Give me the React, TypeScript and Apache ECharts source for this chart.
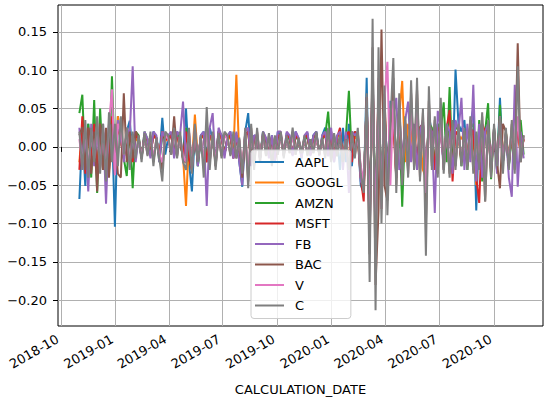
import React, { useEffect, useRef } from "react";
import * as echarts from "echarts";

// Sampling: one observation every 5 calendar days from 2018-11-01
const START_DATE = "2018-11-01";
const STEP_DAYS = 5;

const SERIES_NAMES = ["AAPL", "GOOGL", "AMZN", "MSFT", "FB", "BAC", "V", "C"];
const COLORS = ["#1f77b4", "#ff7f0e", "#2ca02c", "#d62728", "#9467bd", "#8c564b", "#e377c2", "#7f7f7f"];

const AAPL = [
  -0.068, 0.02, -0.051, 0.03, -0.02, 0.025, -0.03, 0.015, -0.025, 0.02,
  -0.02, 0.03, -0.104, 0.04, 0.01, -0.015, 0.02, 0.034, -0.01, 0.015,
  0.01, -0.012, 0.015, 0.008, -0.01, 0.02, 0.012, -0.015, 0.038, -0.01,
  0.012, 0.015, -0.008, 0.02, 0.01, -0.015, 0.05, -0.02, -0.058, 0.02,
  -0.025, 0.015, 0.02, -0.015, 0.025, 0.01, -0.02, 0.02, 0.015, -0.01,
  0.012, 0.02, -0.015, 0.018, -0.02, -0.052, 0.02, 0.044, -0.02, 0.015,
  0.012, -0.015, 0.02, 0.01, -0.01, 0.015, -0.02, 0.02, 0.015, -0.01,
  0.018, 0.012, -0.01, 0.02, 0.01, -0.015, 0.012, 0.018, -0.01, 0.015,
  0.02, -0.01, 0.015, 0.025, -0.012, 0.02, -0.02, 0.015, -0.03, 0.025,
  -0.02, 0.03, -0.025, 0.02, 0.015, -0.05, -0.06, 0.09, -0.12, 0.11,
  -0.13, 0.07, -0.06, 0.05, -0.05, 0.06, 0.04, -0.04, 0.045, -0.02,
  0.03, -0.025, 0.04, 0.015, -0.02, 0.025, 0.03, -0.045, 0.04, 0.02,
  -0.025, 0.03, 0.02, -0.02, 0.025, 0.015, -0.03, 0.101, 0.03, 0.02,
  0.035, -0.02, 0.03, 0.05, -0.083, 0.03, -0.04, 0.02, 0.03, -0.025,
  0.02, -0.03, 0.064, -0.02, 0.01, -0.025, 0.02, -0.015, 0.03, -0.01, 0.01,
];

const GOOGL = [
  -0.02, 0.03, -0.025, 0.02, -0.03, 0.025, -0.02, 0.015, -0.03, 0.01,
  -0.025, 0.035, -0.03, 0.04, 0.005, -0.01, 0.02, 0.01, -0.015, 0.01,
  0.008, -0.01, 0.012, 0.01, -0.008, 0.015, 0.01, -0.012, 0.02, 0.008,
  0.01, 0.015, -0.01, 0.012, 0.008, -0.012, -0.077, 0.01, -0.02, 0.042,
  -0.015, 0.01, 0.015, -0.02, 0.012, 0.008, -0.015, 0.015, 0.01, -0.008,
  0.01, 0.012, -0.01, 0.094, -0.015, -0.03, 0.015, 0.02, -0.02, 0.012,
  0.01, -0.012, 0.015, 0.008, -0.01, 0.012, -0.015, 0.015, 0.012, -0.008,
  0.015, 0.01, -0.008, 0.015, 0.008, -0.01, 0.01, 0.015, -0.008, 0.012,
  0.015, -0.008, 0.012, 0.02, -0.01, 0.015, -0.015, 0.012, 0.02, -0.02,
  0.015, -0.02, 0.02, 0.012, 0.01, -0.04, -0.05, 0.06, -0.11, 0.09,
  -0.11, 0.08, -0.07, 0.06, -0.05, 0.05, 0.04, -0.035, 0.04, 0.086,
  -0.02, 0.03, 0.02, -0.02, 0.03, 0.015, -0.03, -0.04, 0.035, 0.02,
  -0.03, 0.025, 0.02, -0.015, 0.02, 0.015, -0.025, 0.02, 0.015, 0.01,
  0.02, -0.015, 0.025, 0.015, -0.05, 0.02, -0.035, 0.015, 0.025, -0.02,
  0.015, -0.02, 0.03, -0.015, 0.02, -0.02, 0.015, 0.045, 0.02, -0.01, 0.01,
];

const AMZN = [
  0.044, 0.068, -0.03, 0.03, -0.04, 0.061, -0.06, 0.05, -0.03, 0.02,
  -0.035, 0.092, -0.025, 0.03, 0.02, -0.015, -0.038, 0.025, -0.054, 0.02,
  0.015, -0.015, 0.02, 0.01, -0.012, 0.018, 0.012, -0.02, 0.015, 0.01,
  0.012, 0.018, -0.012, 0.015, 0.01, -0.015, 0.025, -0.015, -0.03, 0.02,
  -0.025, 0.012, 0.015, -0.02, 0.015, 0.01, -0.018, 0.02, 0.015, -0.01,
  0.012, 0.015, -0.012, 0.015, -0.015, -0.035, 0.015, 0.02, -0.02, 0.012,
  0.01, -0.015, 0.012, 0.008, -0.012, 0.01, -0.018, 0.012, 0.015, -0.01,
  0.012, 0.01, -0.01, 0.015, 0.008, -0.012, 0.01, 0.012, -0.008, 0.015,
  0.012, -0.008, 0.01, 0.015, 0.046, -0.01, 0.012, -0.012, 0.015, -0.02,
  0.015, 0.073, -0.015, 0.02, 0.01, -0.03, -0.045, 0.05, -0.08, 0.075,
  -0.07, 0.06, -0.05, 0.05, -0.03, 0.04, 0.061, -0.02, 0.035, -0.078,
  0.03, -0.02, 0.035, 0.02, -0.03, 0.025, 0.03, -0.035, 0.03, 0.025,
  -0.03, 0.03, 0.02, 0.058, -0.02, 0.078, -0.03, 0.03, 0.02, -0.025,
  0.02, -0.03, 0.025, 0.03, -0.04, 0.035, -0.045, 0.02, 0.057, -0.042,
  0.025, -0.03, 0.055, -0.02, 0.02, -0.025, 0.015, -0.02, 0.03, 0.035, -0.01,
];

const MSFT = [
  -0.03, 0.04, -0.035, 0.025, -0.02, 0.03, -0.04, 0.03, -0.025, 0.02,
  -0.03, 0.04, -0.035, 0.03, 0.01, -0.015, 0.02, 0.012, -0.02, 0.015,
  0.01, -0.012, 0.015, 0.008, -0.01, 0.015, 0.01, -0.012, 0.02, 0.01,
  0.01, 0.015, -0.01, 0.012, 0.01, -0.015, 0.02, -0.015, -0.03, 0.02,
  -0.02, 0.012, 0.015, -0.02, 0.015, 0.01, -0.02, 0.02, 0.012, -0.01,
  0.012, 0.015, -0.015, 0.015, -0.015, -0.033, 0.015, 0.02, -0.02, 0.012,
  0.012, -0.015, 0.015, 0.01, -0.012, 0.012, -0.02, 0.015, 0.015, -0.01,
  0.015, 0.012, -0.01, 0.015, 0.01, -0.012, 0.012, 0.015, -0.01, 0.012,
  0.015, -0.01, 0.012, 0.015, -0.01, 0.02, -0.015, 0.012, 0.025, -0.02,
  0.015, 0.02, -0.02, 0.02, 0.015, -0.04, -0.071, 0.065, -0.1, 0.1,
  -0.12, 0.08, -0.081, 0.069, -0.05, 0.044, 0.03, -0.04, 0.035, -0.02,
  0.03, -0.02, 0.03, 0.02, -0.025, 0.025, 0.03, -0.045, 0.03, 0.02,
  -0.03, 0.025, 0.02, -0.02, 0.025, 0.048, -0.045, 0.02, 0.015, -0.02,
  0.02, -0.015, 0.025, 0.02, -0.04, -0.073, 0.03, 0.02, 0.025, -0.03,
  0.02, -0.025, 0.04, -0.02, 0.015, -0.02, 0.02, -0.015, 0.025, -0.01, 0.01,
];

const FB = [
  0.025, -0.03, 0.02, -0.058, 0.03, -0.025, 0.02, -0.03, 0.03, -0.074,
  0.03, 0.02, -0.03, 0.035, 0.01, -0.02, 0.025, 0.015, 0.105, -0.02,
  0.012, -0.015, 0.02, 0.01, -0.015, 0.02, 0.015, -0.02, 0.02, 0.012,
  0.015, 0.02, -0.015, 0.02, 0.015, 0.059, -0.02, 0.015, -0.03, 0.025,
  -0.025, 0.015, 0.02, -0.077, 0.025, 0.044, -0.025, 0.025, 0.015, -0.015,
  0.015, 0.02, -0.015, 0.02, -0.02, -0.05, 0.02, 0.025, -0.025, 0.015,
  0.015, -0.02, 0.02, 0.012, -0.015, 0.015, -0.02, 0.02, 0.02, -0.012,
  0.02, 0.015, -0.012, 0.02, 0.012, -0.015, 0.015, 0.02, -0.012, 0.015,
  0.02, -0.012, 0.015, 0.02, -0.012, 0.025, -0.02, 0.015, 0.02, -0.03,
  0.02, -0.06, 0.02, 0.015, 0.02, -0.045, -0.05, 0.06, -0.1, 0.09,
  -0.1, 0.07, -0.06, 0.05, -0.04, 0.05, 0.04, 0.064, -0.03, -0.02,
  0.035, 0.059, -0.02, 0.03, -0.03, 0.02, 0.035, -0.04, 0.03, 0.02,
  -0.086, 0.047, 0.025, -0.03, 0.03, 0.02, -0.035, 0.035, 0.02, 0.064,
  -0.03, 0.03, -0.02, 0.081, -0.045, 0.03, -0.04, 0.02, 0.03, -0.03,
  0.025, -0.035, 0.04, -0.02, 0.02, -0.04, -0.065, 0.081, -0.052, 0.02, -0.015,
];

const BAC = [
  0.015, 0.026, -0.03, 0.025, -0.035, 0.02, -0.058, 0.03, -0.03, 0.025,
  -0.04, 0.03, 0.02, -0.035, -0.04, 0.07, -0.02, 0.02, -0.015, 0.02,
  0.012, -0.015, 0.015, -0.01, 0.012, -0.02, 0.01, -0.012, -0.03, 0.015,
  0.012, -0.01, 0.04, -0.012, 0.015, -0.018, -0.02, 0.02, -0.025, 0.02,
  -0.018, 0.012, -0.025, 0.03, -0.02, 0.015, -0.025, 0.015, -0.012, 0.018,
  0.012, -0.01, 0.015, -0.015, 0.01, -0.04, 0.02, -0.045, 0.025, -0.025,
  0.02, -0.015, 0.018, -0.01, 0.015, -0.02, 0.012, -0.01, 0.018, -0.012,
  0.012, -0.008, 0.02, -0.01, 0.01, -0.008, 0.012, -0.01, 0.01, -0.008,
  0.018, -0.01, 0.01, -0.012, 0.02, -0.018, 0.015, -0.01, 0.012, -0.018,
  0.01, -0.025, 0.018, -0.012, 0.02, -0.03, -0.055, 0.06, -0.14, 0.13,
  -0.18, -0.084, 0.153, -0.05, -0.07, 0.02, 0.09, -0.05, 0.06, -0.045,
  0.035, -0.035, 0.07, -0.025, 0.075, -0.04, 0.045, -0.1, 0.06, -0.025,
  0.035, -0.035, 0.05, -0.03, 0.025, -0.035, 0.03, -0.025, 0.025, -0.02,
  0.02, -0.025, 0.035, -0.03, 0.015, -0.025, 0.04, -0.071, 0.03, -0.035,
  0.025, -0.02, -0.054, 0.03, 0.02, -0.025, 0.03, -0.03, 0.135, -0.02, 0.015,
];

const V = [
  0.01, -0.02, 0.025, -0.03, 0.02, -0.015, 0.03, -0.025, 0.02, -0.03,
  0.03, 0.075, -0.037, 0.03, 0.02, -0.01, 0.02, -0.02, 0.015, -0.01,
  0.01, -0.012, 0.012, -0.008, 0.015, -0.015, 0.01, -0.01, -0.02, 0.015,
  0.01, -0.008, 0.02, -0.01, 0.015, -0.012, -0.02, 0.02, -0.025, 0.02,
  -0.015, 0.012, -0.02, 0.025, -0.02, 0.015, -0.02, 0.012, -0.01, 0.015,
  0.01, -0.008, 0.015, -0.01, 0.008, -0.025, 0.018, -0.035, 0.02, -0.02,
  0.018, -0.012, 0.015, -0.008, 0.012, -0.015, 0.01, -0.008, 0.015, -0.01,
  0.01, -0.006, 0.015, -0.008, 0.01, -0.006, 0.01, -0.008, 0.008, -0.006,
  0.012, -0.008, 0.01, -0.01, 0.015, -0.012, 0.012, -0.008, 0.01, -0.015,
  0.008, -0.02, 0.015, -0.01, 0.015, -0.025, -0.045, 0.05, -0.12, 0.1,
  -0.13, 0.09, -0.08, 0.06, 0.111, -0.05, 0.06, -0.04, 0.05, -0.035,
  0.03, -0.03, 0.05, -0.02, 0.05, -0.03, 0.035, -0.06, 0.045, -0.02,
  0.025, -0.03, 0.035, -0.025, 0.02, -0.03, 0.025, -0.02, 0.02, -0.015,
  0.015, -0.02, 0.025, -0.025, 0.015, -0.02, 0.03, -0.04, 0.02, -0.025,
  0.02, -0.015, 0.025, -0.02, 0.015, -0.02, 0.025, -0.02, 0.04, -0.01, 0.012,
];

const C = [
  0.02, -0.03, 0.035, -0.04, 0.025, -0.02, 0.04, -0.035, 0.03, -0.045,
  0.045, -0.02, 0.03, -0.025, 0.04, -0.01, 0.025, -0.03, 0.02, -0.015,
  0.015, -0.02, 0.018, -0.012, 0.02, -0.025, 0.012, -0.015, -0.045, 0.02,
  0.015, -0.01, 0.025, -0.015, 0.02, -0.02, -0.03, 0.025, -0.035, 0.03,
  -0.02, 0.015, -0.04, 0.052, -0.03, 0.02, -0.03, 0.018, -0.015, 0.02,
  0.015, -0.012, 0.02, -0.015, 0.012, -0.035, 0.025, -0.054, 0.03, -0.03,
  0.025, -0.02, 0.02, -0.012, 0.018, -0.025, 0.015, -0.01, 0.02, -0.015,
  0.015, -0.008, 0.025, -0.01, 0.012, -0.008, 0.015, -0.012, 0.01, -0.008,
  0.02, -0.01, 0.012, -0.015, 0.025, -0.02, 0.018, -0.012, 0.015, -0.02,
  0.01, -0.03, 0.02, -0.015, 0.025, -0.035, -0.06, 0.07, -0.176, 0.167,
  -0.213, 0.13, -0.1, 0.08, -0.089, 0.03, 0.116, -0.06, 0.07, -0.05,
  0.04, -0.04, 0.087, -0.03, 0.09, -0.045, 0.05, -0.142, 0.079, -0.03,
  0.04, -0.04, 0.064, -0.035, 0.03, -0.04, 0.035, -0.03, 0.03, -0.025,
  0.025, -0.03, 0.04, -0.035, 0.02, -0.03, 0.045, -0.071, 0.035, -0.04,
  0.03, -0.025, 0.04, -0.035, 0.025, -0.03, 0.035, -0.035, 0.105, -0.02, 0.015,
];

const SERIES_VALUES = [AAPL, GOOGL, AMZN, MSFT, FB, BAC, V, C];

const Y_TICKS = [-0.2, -0.15, -0.1, -0.05, 0, 0.05, 0.1, 0.15];
const X_TICKS = ["2018-10-01", "2019-01-01", "2019-04-01", "2019-07-01", "2019-10-01", "2020-01-01", "2020-04-01", "2020-07-01", "2020-10-01"];
const X_MIN = "2018-09-25T22:00:00Z";
const X_MAX = "2020-12-22T16:00:00Z";
const Y_MIN = -0.2335;
const Y_MAX = 0.185;

const FONT = "DejaVu Sans";
const DAY = 86400000;

function App() {
  const ref = useRef<HTMLDivElement>(null);
  useEffect(() => {
    if (!ref.current) return;
    const chart = echarts.init(ref.current, null, { renderer: "svg" });
    const t0 = Date.parse(START_DATE + "T00:00:00Z");
    const n = C.length;
    const dates: number[] = [];
    for (let k = 0; k < n; k++) dates.push(t0 + k * STEP_DAYS * DAY);
    const xTicks = X_TICKS.map((d) => Date.parse(d + "T00:00:00Z"));
    const fmtY = (v: number) => (v < 0 ? "\u2212" : "") + Math.abs(v).toFixed(2);
    const fmtX = (v: number) => {
      const d = new Date(v);
      const m = d.getUTCMonth() + 1;
      return d.getUTCFullYear() + "-" + (m < 10 ? "0" + m : "" + m);
    };
    chart.setOption({
      animation: false,
      textStyle: { fontFamily: FONT },
      grid: {
        left: 58,
        right: 7,
        top: 5,
        bottom: 74,
        show: true,
        borderColor: "#000",
        borderWidth: 1,
        backgroundColor: "transparent",
        outerBoundsMode: "none",
      },
      legend: {
        orient: "vertical",
        left: 251,
        top: 150,
        padding: [5, 8, 6, 4],
        icon: "rect",
        itemWidth: 29,
        itemHeight: 2,
        itemGap: 6.5,
        selectedMode: false,
        backgroundColor: "rgba(255,255,255,0.8)",
        borderColor: "#cccccc",
        borderWidth: 1,
        borderRadius: 3,
        textStyle: { fontSize: 13, lineHeight: 14, color: "#000", fontFamily: FONT, padding: [0, 0, 0, 6] },
        data: SERIES_NAMES,
      },
      xAxis: {
        type: "value",
        min: Date.parse(X_MIN),
        max: Date.parse(X_MAX),
        name: "CALCULATION_DATE",
        nameLocation: "middle",
        nameGap: 57,
        nameTextStyle: { fontSize: 13, color: "#000", fontFamily: FONT },
        axisLine: { show: false },
        axisTick: { show: true, length: 5, customValues: xTicks, lineStyle: { color: "#000", width: 1 } },
        axisLabel: {
          customValues: xTicks,
          formatter: fmtX,
          rotate: 30,
          margin: 10,
          padding: [0, 4, 0, 0],
          fontSize: 13,
          color: "#000",
          fontFamily: FONT,
          showMinLabel: true,
          showMaxLabel: true,
        },
        splitLine: { show: true, lineStyle: { color: "#b0b0b0", width: 1 } },
      },
      yAxis: {
        type: "value",
        min: Y_MIN,
        max: Y_MAX,
        axisLine: { show: false },
        axisTick: { show: true, length: 5, customValues: Y_TICKS, lineStyle: { color: "#000", width: 1 } },
        axisLabel: {
          customValues: Y_TICKS,
          formatter: fmtY,
          margin: 11,
          fontSize: 13,
          color: "#000",
          fontFamily: FONT,
        },
        splitLine: { show: true, lineStyle: { color: "#b0b0b0", width: 1 } },
      },
      series: SERIES_NAMES.map((name, s) => ({
        name,
        type: "line",
        symbol: "none",
        showSymbol: false,
        color: COLORS[s],
        lineStyle: { width: 2, color: COLORS[s] },
        emphasis: { disabled: true },
        data: dates.map((d, k) => [d, SERIES_VALUES[s][k]]),
      })),
    });
    return () => chart.dispose();
  }, []);
  return (
    <div
      ref={ref}
      style={{ position: "fixed", left: 0, top: 0, width: 550, height: 400, background: "#fff" }}
    />
  );
}

export default App;
